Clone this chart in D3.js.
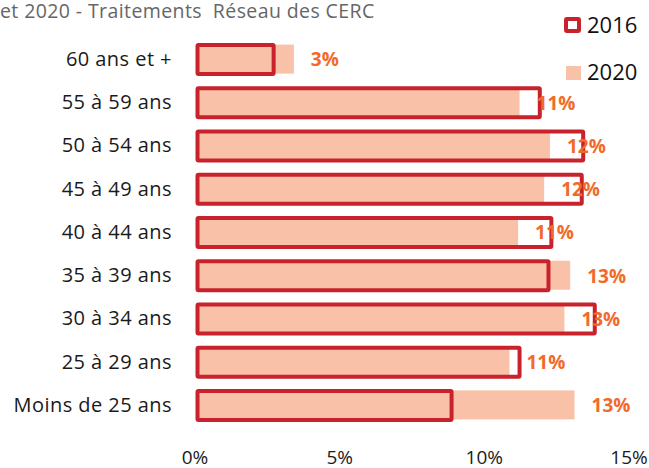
<!DOCTYPE html>
<meta charset="utf-8">
<style>
 body { margin: 0; background: #fff; }
 svg { background: #fff; }
 svg text { font-family: "Open Sans", sans-serif; }
 .cat { font-size: 20px; fill: #1a1a1a; letter-spacing: 0.45px; }
 .tick-lbl { font-size: 19px; fill: #1a1a1a; }
 .val { font-size: 19px; font-weight: bold; fill: #f26a2a; }
 .title { font-size: 19.5px; fill: #666; letter-spacing: 0.4px; white-space: pre; }
 .leg { font-size: 22px; fill: #111; }
</style>
<body>
<svg width="649" height="468"></svg>
<script src="https://cdn.jsdelivr.net/npm/d3@7"></script>
<script>
 // age groups, top to bottom
 var categories = ["60 ans et +", "55 à 59 ans", "50 à 54 ans", "45 à 49 ans", "40 à 44 ans",
                   "35 à 39 ans", "30 à 34 ans", "25 à 29 ans", "Moins de 25 ans"];
 // share of employees (%)
 var values2016 = [2.7, 11.9, 13.4, 13.35, 12.3, 12.2, 13.8, 11.2, 8.85];
 var values2020 = [3.4, 11.2, 12.25, 12.05, 11.15, 12.95, 12.75, 10.85, 13.1];
 var valueLabels = ["3%", "11%", "12%", "12%", "11%", "13%", "13%", "11%", "13%"];
 var xTicks = [0, 5, 10, 15];
 var seriesNames = ["2016", "2020"];
 var titleText = "et 2020 - Traitements  Réseau des CERC";

 var red = "#c8232c", salmon = "#f9c1a7";

 var svg = d3.select("svg");

 var x = d3.scaleLinear().domain([0, 15]).range([195.5, 629.5]);
 var y = d3.scaleBand().domain(categories).range([38, 427]).padding(0);

 var rows = categories.map(function(c, i) {
     return {cat: c, v16: values2016[i], v20: values2020[i], lbl: valueLabels[i]};
 });

 // title (cut at the left like the original)
 svg.append("text").attr("class", "title")
    .attr("x", 0).attr("y", 18)
    .text(titleText);

 // 2020 filled bars
 svg.selectAll("rect.b20").data(rows).enter().append("rect")
    .attr("class", "b20")
    .attr("x", x(0) + 0.5)
    .attr("y", function(d) { return y(d.cat) + y.bandwidth() / 2 - 15; })
    .attr("width", function(d) { return x(d.v20) - x(0) - 0.5; })
    .attr("height", 29)
    .attr("fill", salmon);

 // 2016 outlined bars
 svg.selectAll("rect.b16").data(rows).enter().append("rect")
    .attr("class", "b16")
    .attr("x", x(0) + 2)
    .attr("y", function(d) { return y(d.cat) + y.bandwidth() / 2 - 14.5; })
    .attr("width", function(d) { return x(d.v16) - x(0) - 2; })
    .attr("height", 29)
    .attr("fill", "none")
    .attr("stroke", red)
    .attr("stroke-width", 4)
    .attr("rx", 1);

 // value labels (2020)
 svg.selectAll("text.val").data(rows).enter().append("text")
    .attr("class", "val")
    .attr("x", function(d) { return x(d.v20) + 17; })
    .attr("y", function(d) { return y(d.cat) + y.bandwidth() / 2; })
    .attr("dy", "0.36em")
    .text(function(d) { return d.lbl; });

 // category axis
 var yAxis = svg.append("g")
    .attr("transform", "translate(183,0)")
    .call(d3.axisLeft(y).tickSize(0).tickPadding(11));
 yAxis.select(".domain").remove();
 yAxis.selectAll("text").attr("class", "cat").attr("fill", null);

 // value axis
 var xAxis = svg.append("g")
    .attr("transform", "translate(-1,446)")
    .call(d3.axisBottom(x).tickValues(xTicks).tickSize(0).tickPadding(0)
             .tickFormat(function(d) { return d + "%"; }));
 xAxis.select(".domain").remove();
 xAxis.selectAll("text").attr("class", "tick-lbl").attr("fill", null)
    .attr("dy", "0.95em");

 // legend
 var leg = svg.append("g");
 leg.append("rect").attr("x", 566).attr("y", 19).attr("width", 13).attr("height", 12)
    .attr("fill", "none").attr("stroke", red).attr("stroke-width", 4).attr("rx", 1);
 leg.append("text").attr("class", "leg").attr("x", 587).attr("y", 33).text(seriesNames[0]);
 leg.append("rect").attr("x", 566).attr("y", 66).attr("width", 15).attr("height", 14)
    .attr("fill", salmon);
 leg.append("text").attr("class", "leg").attr("x", 587).attr("y", 80).text(seriesNames[1]);
</script>
</body>
